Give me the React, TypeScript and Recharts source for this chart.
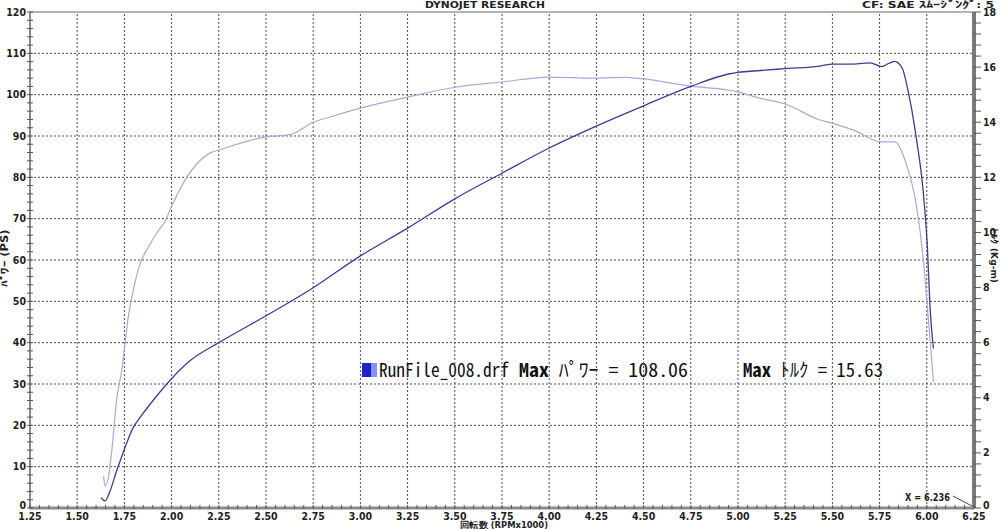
import React from 'react';
import { LineChart, Line, XAxis, YAxis, ReferenceLine, Customized } from 'recharts';

// ---- data ----
const rpmPower = [1.626, 1.647, 1.674, 1.709, 1.753, 1.797, 1.833, 1.886, 1.99, 2.097, 2.25, 2.5, 2.75, 3.0, 3.25, 3.5, 3.75, 4.0, 4.25, 4.5, 4.75, 4.95, 5.0, 5.05, 5.25, 5.434, 5.5, 5.61, 5.7, 5.76, 5.8, 5.83, 5.87, 5.9, 5.946, 5.98, 6.003, 6.017, 6.035];
const powerPS = [2.5, 1.7, 4.1, 9.0, 14.6, 19.5, 21.9, 25.1, 30.8, 35.6, 40.0, 46.5, 53.3, 61.0, 67.7, 74.8, 81.0, 87.1, 92.4, 97.3, 102.0, 105.0, 105.4, 105.6, 106.3, 106.9, 107.4, 107.4, 107.7, 106.8, 107.6, 108.06, 106.4, 101.1, 89.0, 77.0, 63.2, 48.7, 38.6];

const rpmTorque = [1.64, 1.647, 1.665, 1.683, 1.71, 1.736, 1.753, 1.77, 1.797, 1.833, 1.877, 1.93, 1.965, 2.0, 2.08, 2.2, 2.256, 2.5, 2.627, 2.75, 2.84, 3.0, 3.25, 3.5, 3.75, 4.0, 4.25, 4.4, 4.5, 4.75, 5.0, 5.1, 5.25, 5.434, 5.5, 5.61, 5.76, 5.83, 5.89, 5.946, 5.98, 6.0, 6.017, 6.035];
const torqueKgm = [1.16, 0.8, 1.1, 2.07, 4.0, 5.0, 5.95, 6.9, 7.9, 8.86, 9.47, 10.07, 10.4, 10.95, 12.0, 12.87, 13.0, 13.47, 13.55, 14.0, 14.19, 14.51, 14.91, 15.27, 15.46, 15.64, 15.6, 15.63, 15.57, 15.31, 15.1, 14.9, 14.66, 14.08, 13.96, 13.72, 13.29, 13.29, 12.51, 10.93, 9.12, 7.55, 6.1, 4.58];

const xLabelTicks = [1.25, 1.5, 1.75, 2.0, 2.25, 2.5, 2.75, 3.0, 3.25, 3.5, 3.75, 4.0, 4.25, 4.5, 4.75, 5.0, 5.25, 5.5, 5.75, 6.0, 6.25];
const xGridTicks = [1.5, 1.75, 2.0, 2.25, 2.5, 2.75, 3.0, 3.25, 3.5, 3.75, 4.0, 4.25, 4.5, 4.75, 5.0, 5.25, 5.5, 5.75, 6.0];
const psLabelTicks = [0, 10, 20, 30, 40, 50, 60, 70, 80, 90, 100, 110, 120];
const psGridTicks = [10, 20, 30, 40, 50, 60, 70, 80, 90, 100, 110];
const tqLabelTicks = [0, 2, 4, 6, 8, 10, 12, 14, 16, 18];

// minor tick positions (axis decoration only)
const xMinorTicks = Array.from({ length: 101 }, (_, i) => +(1.25 + i * 0.05).toFixed(2));
const psMinorTicks = Array.from({ length: 61 }, (_, i) => i * 2);
const tqMinorTicks = Array.from({ length: 46 }, (_, i) => +(i * 0.4).toFixed(1));

const powerData = rpmPower.map((r, i) => ({ rpm: r, ps: powerPS[i] }));
const torqueData = rpmTorque.map((r, i) => ({ rpm: r, tq: torqueKgm[i] }));

const FONT = "'Liberation Sans Narrow','DejaVu Sans Condensed','Arial Narrow',sans-serif";
const MONO = "'Noto Sans Mono CJK JP','DejaVu Sans Mono',monospace";
const TICK_COLOR = '#1e1e1e';

const XTick = (props: any) => {
  const { x, y, payload } = props;
  const v = payload.value;
  const major = xLabelTicks.includes(v);
  return (
    <g>
      <line x1={x} x2={x} y1={y - 3} y2={y + 1} stroke="#555" strokeWidth={1} />
      {major && (
        <text x={x} y={y + 12} textAnchor="middle" fontFamily={FONT} fontWeight="bold" fontSize={10.5} fill={TICK_COLOR}>
          {v.toFixed(2)}
        </text>
      )}
    </g>
  );
};

const PsTick = (props: any) => {
  const { x, y, payload } = props;
  const v = payload.value;
  const major = psLabelTicks.includes(v);
  return (
    <g>
      <line x1={x - 3} x2={x + 3} y1={y} y2={y} stroke="#555" strokeWidth={1} />
      {major && (
        <text x={x - 4} y={v === 0 ? y + 1 : y + 3.5} textAnchor="end" fontFamily={FONT} fontWeight="bold" fontSize={10.5} fill={TICK_COLOR}>
          {v}
        </text>
      )}
    </g>
  );
};

const TqTick = (props: any) => {
  const { x, y, payload } = props;
  const v = payload.value;
  const major = tqLabelTicks.includes(v);
  return (
    <g>
      <line x1={x} x2={x + 7} y1={y} y2={y} stroke="#555" strokeWidth={1} />
      {major && (
        <text x={x + 9} y={v === 0 ? y + 0.5 : y + 3.5} textAnchor="start" fontFamily={FONT} fontWeight="bold" fontSize={10.5} fill={TICK_COLOR}>
          {v}
        </text>
      )}
    </g>
  );
};

const Annotations = () => (
  <g>
    <text x={485} y={8} textAnchor="middle" fontFamily={FONT} fontWeight="bold" fontSize={9.5} fill="#222" textLength={120} lengthAdjust="spacingAndGlyphs">
      DYNOJET  RESEARCH
    </text>
    <text x={862} y={8} textAnchor="start" fontFamily={FONT} fontWeight="bold" fontSize={9.5} fill="#222" textLength={132} lengthAdjust="spacingAndGlyphs">
      CF: SAE  ｽﾑｰｼﾞﾝｸﾞ: 5
    </text>
    <text x={0} y={0} transform="translate(8,258) rotate(-90)" textAnchor="middle" fontFamily={FONT} fontWeight="bold" fontSize={10} fill="#222" textLength={57} lengthAdjust="spacingAndGlyphs">
      ﾊﾟﾜｰ  (PS)
    </text>
    <text x={0} y={0} transform="translate(991,228) rotate(90)" textAnchor="start" fontFamily={FONT} fontWeight="bold" fontSize={9} fill="#222" textLength={55} lengthAdjust="spacingAndGlyphs">
      ﾄﾙｸ  (Kg-m)
    </text>
    <text x={460} y={528} textAnchor="start" fontFamily={FONT} fontWeight="bold" fontSize={9} fill="#222" textLength={88} lengthAdjust="spacingAndGlyphs">
      回転数 (RPMx1000)
    </text>
    <text x={905} y={501} textAnchor="start" fontFamily={FONT} fontWeight="bold" fontSize={10} fill="#222" textLength={45} lengthAdjust="spacingAndGlyphs">
      X = 6.236
    </text>
    <line x1={953} y1={496} x2={972} y2={506} stroke="#444" strokeWidth={1} />
    {/* legend */}
    <rect x={362} y={363} width={9} height={14} fill="#1f22c8" />
    <rect x={371} y={363} width={6} height={14} fill="#7f93ff" />
    <text x={379} y={377} fontFamily={MONO} fontSize={19} fill="#111" textLength={130} lengthAdjust="spacingAndGlyphs">
      RunFile_008.drf
    </text>
    <text x={519} y={377} fontFamily={MONO} fontSize={19} fill="#111" textLength={169} lengthAdjust="spacingAndGlyphs">
      <tspan fontWeight="bold">Max</tspan> ﾊﾟﾜｰ = 108.06
    </text>
    <text x={743} y={377} fontFamily={MONO} fontSize={19} fill="#111" textLength={140} lengthAdjust="spacingAndGlyphs">
      <tspan fontWeight="bold">Max</tspan> ﾄﾙｸ = 15.63
    </text>
  </g>
);

export default function App() {
  return (
    <div style={{ width: 1000, height: 529, background: '#fff' }}>
      <style>{'body{margin:0;background:#fff;}'}</style>
      <LineChart width={1000} height={529} margin={{ top: 12, right: 0, bottom: 0, left: 0 }}>
        <XAxis
          type="number"
          dataKey="rpm"
          domain={[1.25, 6.25]}
          ticks={xMinorTicks}
          interval={0}
          height={21}
          tickSize={0}
          tickMargin={0}
          tickLine={false}
          tick={<XTick />}
          axisLine={{ stroke: '#8a8a8a', strokeWidth: 3 }}
          allowDataOverflow
        />
        <YAxis
          yAxisId="ps"
          domain={[0, 120]}
          ticks={psMinorTicks}
          interval={0}
          width={30}
          tickSize={0}
          tickMargin={0}
          tickLine={false}
          tick={<PsTick />}
          axisLine={{ stroke: '#8a8a8a', strokeWidth: 2 }}
          allowDataOverflow
        />
        <YAxis
          yAxisId="tq"
          orientation="right"
          domain={[0, 18]}
          ticks={tqMinorTicks}
          interval={0}
          width={26}
          tickSize={0}
          tickMargin={0}
          tickLine={false}
          tick={<TqTick />}
          axisLine={{ stroke: '#7a7a7a', strokeWidth: 4 }}
          allowDataOverflow
        />
        {xGridTicks.map((v) => (
          <ReferenceLine key={'vx' + v} x={v} yAxisId="ps" stroke="#4a4a4a" strokeWidth={1} strokeDasharray="2 2" />
        ))}
        {psGridTicks.map((v) => (
          <ReferenceLine key={'hy' + v} y={v} yAxisId="ps" stroke="#4a4a4a" strokeWidth={1} strokeDasharray="2 2" />
        ))}
        <ReferenceLine y={120} yAxisId="ps" stroke="#666" strokeWidth={1} />
        <Line
          yAxisId="tq"
          data={torqueData}
          dataKey="tq"
          type="monotone"
          stroke="#a9a9d6"
          strokeWidth={1.2}
          dot={false}
          isAnimationActive={false}
        />
        <Line
          yAxisId="ps"
          data={powerData}
          dataKey="ps"
          type="monotone"
          stroke="#3b3e8e"
          strokeWidth={1.3}
          dot={false}
          isAnimationActive={false}
        />
        <Customized component={Annotations} />
      </LineChart>
    </div>
  );
}
